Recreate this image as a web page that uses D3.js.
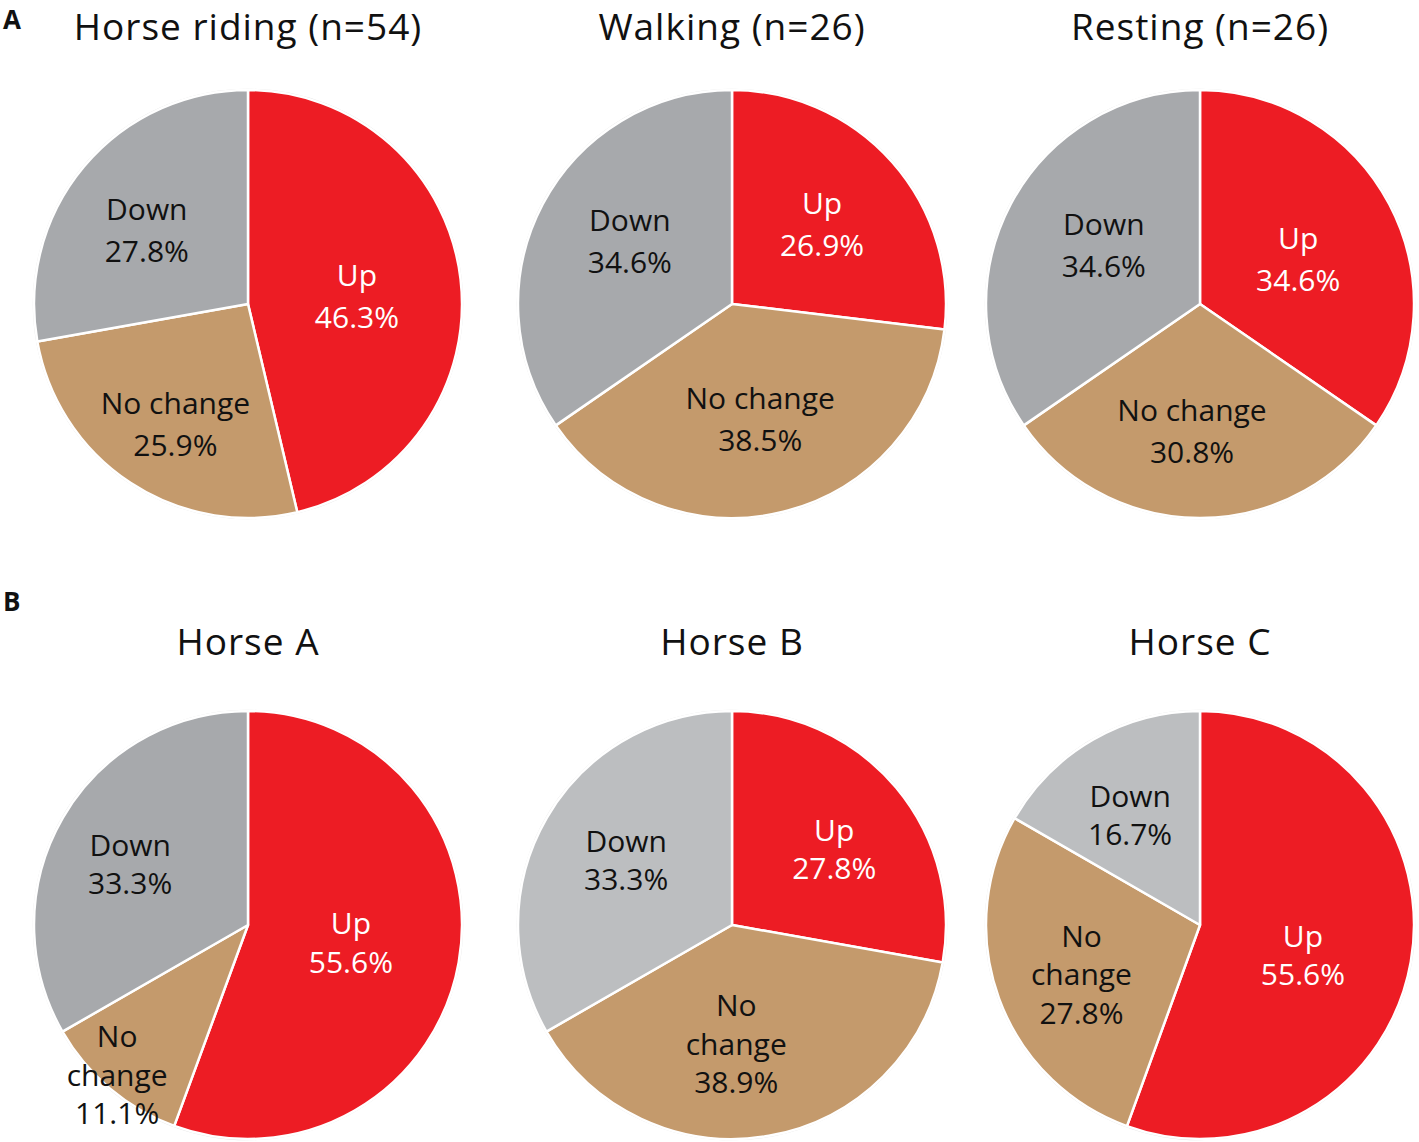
<!DOCTYPE html>
<html>
<head>
<meta charset="utf-8">
<script src="https://cdn.jsdelivr.net/npm/d3@7"></script>
<style>
  html, body { margin: 0; padding: 0; background: #ffffff; }
  svg { display: block; }
  text { font-family: "Open Sans", "Noto Sans", sans-serif; }
</style>
</head>
<body>
<svg id="chart" width="1419" height="1142"></svg>
<script>
// ---------------- data ----------------
const chartTitles = ["Horse riding (n=54)", "Walking (n=26)", "Resting (n=26)", "Horse A", "Horse B", "Horse C"];
const panelLetters = ["A", "B"];
const categories = ["Up", "No change", "Down"];
const upValues       = [46.3, 26.9, 34.6, 55.6, 27.8, 55.6];
const noChangeValues = [25.9, 38.5, 30.8, 11.1, 38.9, 27.8];
const downValues     = [27.8, 34.6, 34.6, 33.3, 33.3, 16.7];

// ---------------- layout / style ----------------
const W = 1419, H = 1142;
const R = 214;
const colCx = [248, 732, 1200];
const rowCy = [304, 925];
const titleBaseline = [40, 655];
const titleFont = 37;
const letterBaseline = [29, 611];
const letterFont = 26;
const labelFont = 30;
const lineHeights = [42, 38.5];
// label nudges from the arc centroid (at 0.55 R), per chart per category [Up, No change, Down]
const labelNudge = [
  [[-8, 6], [-8, 22], [-11, 2]],
  [[2, -2], [0, 1], [2, -8]],
  [[-6, 10], [-8, 9], [8, -4]],
  [[-13, -3], [-55, 60], [-16, -2]],
  [[12, 0], [-16, 3], [-4, -6]],
  [[-13, 10], [-8, 9], [-11, -8]]
];
const splitNoChange = [false, false, false, true, true, true];
const downColors = ["#a7a9ac", "#a7a9ac", "#a7a9ac", "#a7a9ac", "#bcbec0", "#bcbec0"];
const catColor = { "Up": "#ed1c24", "No change": "#c49a6c" };
const textColor = { "Up": "#ffffff", "No change": "#111111", "Down": "#111111" };

const svg = d3.select("#chart");

const pie = d3.pie().sort(null).value(d => d.value);
const arc = d3.arc().innerRadius(0).outerRadius(R);
const labelArc = d3.arc().innerRadius(R * 0.55).outerRadius(R * 0.55);

chartTitles.forEach((title, i) => {
  const row = Math.floor(i / 3), col = i % 3;
  const cx = colCx[col], cy = rowCy[row];
  const data = categories.map((cat, k) => ({
    cat,
    value: [upValues, noChangeValues, downValues][k][i]
  }));
  const g = svg.append("g").attr("transform", `translate(${cx},${cy})`);

  // faint outer edge
  g.append("circle").attr("r", R + 0.5)
    .attr("fill", "none").attr("stroke", "#e4e4e4").attr("stroke-width", 1.5);

  const arcs = pie(data);
  g.selectAll("path.slice").data(arcs).join("path")
    .attr("class", "slice")
    .attr("d", arc)
    .attr("fill", d => d.data.cat === "Down" ? downColors[i] : catColor[d.data.cat])
    .attr("stroke", "#ffffff")
    .attr("stroke-width", 2.5)
    .attr("stroke-linejoin", "round");

  const lh = lineHeights[row];
  arcs.forEach((a, k) => {
    const [x0, y0] = labelArc.centroid(a);
    const [nx, ny] = labelNudge[i][k];
    const x = x0 + nx, y = y0 + ny;
    const cat = a.data.cat;
    let lines;
    if (cat === "No change" && splitNoChange[i]) lines = ["No", "change", a.data.value.toFixed(1) + "%"];
    else lines = [cat, a.data.value.toFixed(1) + "%"];
    const n = lines.length;
    const t = g.append("text")
      .attr("text-anchor", "middle")
      .attr("font-size", labelFont)
      .attr("fill", textColor[cat]);
    lines.forEach((ln, j) => {
      t.append("tspan")
        .attr("x", x)
        .attr("y", y + (j - (n - 1) / 2) * lh + labelFont * 0.36)
        .text(ln);
    });
  });

  svg.append("text")
    .attr("x", cx).attr("y", titleBaseline[row])
    .attr("text-anchor", "middle")
    .attr("font-size", titleFont)
    .attr("letter-spacing", 1)
    .attr("fill", "#111111")
    .text(title);
});

panelLetters.forEach((L, r) => {
  svg.append("text")
    .attr("x", 3).attr("y", letterBaseline[r])
    .attr("font-family", "'Liberation Sans', Arial, sans-serif")
    .attr("font-weight", "bold")
    .attr("font-size", letterFont)
    .attr("fill", "#111111")
    .text(L);
});
</script>
</body>
</html>
